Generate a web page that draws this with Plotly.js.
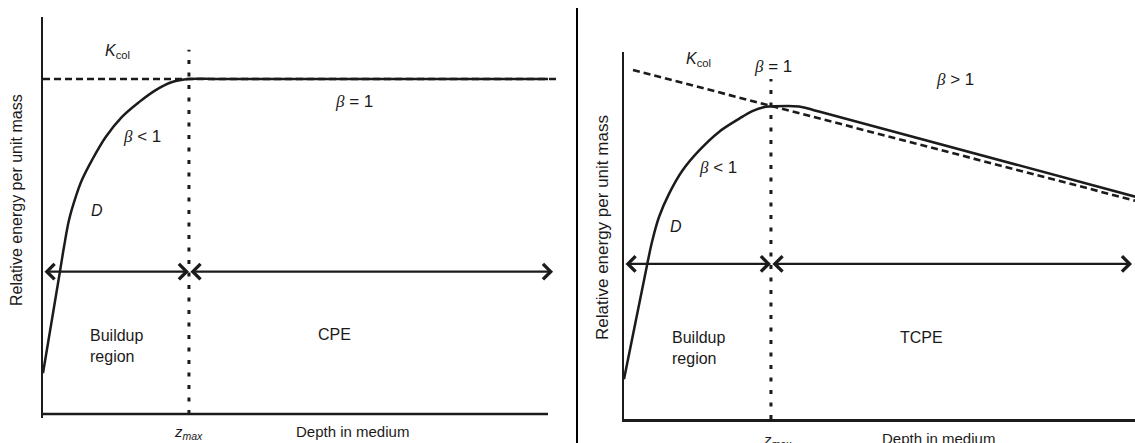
<!DOCTYPE html>
<html><head><meta charset="utf-8">
<script src="https://cdn.plot.ly/plotly-3.0.1.min.js"></script>
<style>html,body{margin:0;padding:0;background:#fff}#chart{width:1135px;height:443px}</style>
</head><body><div id="chart"></div>
<script>
// ---------- Left panel: charged particle equilibrium (beta = 1) ----------
const leftDepth  = [0, 0.331, 0.416, 0.515, 0.648, 0.772, 0.970, 1.242, 1.564, 1.901, 2.232, 2.558, 2.89, 3.5, 10.0];
const leftEnergy = [0.122, 0.421, 0.499, 0.579, 0.648, 0.699, 0.758, 0.827, 0.887, 0.931, 0.967, 0.991, 1.0, 1.0, 1.0];
const leftKcolDepth  = [0, 10.16];
const leftKcolEnergy = [1.0, 1.0];
const leftZmax = 2.89;
const leftZmaxTop = 1.087;
const leftAxisEnd = 10.0;
const leftArrowLevel = 0.425;
const leftArrowEnd = 10.1;

// ---------- Right panel: transient charged particle equilibrium ----------
const rightDepth  = [0, 0.461, 0.560, 0.693, 0.891, 1.154, 1.485, 1.881, 2.277, 2.541, 2.806, 2.911, 3.465, 3.86, 10.139];
const rightEnergy = [0.119, 0.463, 0.532, 0.603, 0.672, 0.741, 0.801, 0.857, 0.896, 0.919, 0.932, 0.933, 0.933, 0.918, 0.663];
const rightKcolDepth  = [0.178, 10.139];
const rightKcolEnergy = [1.042, 0.651];
const rightZmax = 2.91;
const rightZmaxTop = 1.015;
const rightArrowLevel = 0.463;
const rightArrowEnd = 10.06;

// Labels
const yTitle = 'Relative energy per unit mass';
const xTitle = 'Depth in medium';
const kcolText = '<i>K</i><sub>col</sub>';
const zmaxText = '<i>z</i><sub><i>max</i></sub>';
const beta = '<span style="font-family:\'Liberation Serif\',\'Times New Roman\',serif;font-style:italic">β</span>';

// ---------- styling / geometry (pixels) ----------
const W = 1135, H = 443;
const PX_X = 50.5, PX_Y = 335;
const INK = '#1c1a1a';
const FONT = 'Liberation Sans, Arial, Helvetica, sans-serif';

const solid = {color: INK, width: 2.5};
const dashed = {color: INK, width: 2.6, dash: '7px,4px'};
const dotted = {color: INK, width: 3, dash: '4px,8.5px'};

const traces = [
  {x: [0, leftAxisEnd], y: [0, 0], xaxis: 'x', yaxis: 'y', mode: 'lines', line: solid},
  {x: leftKcolDepth, y: leftKcolEnergy, xaxis: 'x', yaxis: 'y', mode: 'lines', line: dashed},
  {x: [leftZmax, leftZmax], y: [0, leftZmaxTop], xaxis: 'x', yaxis: 'y', mode: 'lines', line: dotted},
  {x: leftDepth, y: leftEnergy, xaxis: 'x', yaxis: 'y', mode: 'lines', line: Object.assign({shape: 'spline', smoothing: 1}, solid)},
  {x: rightKcolDepth, y: rightKcolEnergy, xaxis: 'x2', yaxis: 'y2', mode: 'lines', line: dashed},
  {x: [rightZmax, rightZmax], y: [0, rightZmaxTop], xaxis: 'x2', yaxis: 'y2', mode: 'lines', line: dotted},
  {x: rightDepth, y: rightEnergy, xaxis: 'x2', yaxis: 'y2', mode: 'lines', line: Object.assign({shape: 'spline', smoothing: 1}, solid)}
];

function hiddenX(extra) {
  return Object.assign({showgrid: false, zeroline: false, showticklabels: false, ticks: '', fixedrange: true}, extra);
}
function lineY(extra) {
  return Object.assign({showgrid: false, zeroline: false, showticklabels: false, ticks: '', fixedrange: true,
    showline: true, linecolor: INK, linewidth: 2.5}, extra);
}

// left: x=0 at px 43, y=0 at px 414 (domain bottom at 418)
const leftX0 = 43, leftXEnd = 558, leftYBottom = 418, leftY0 = 414, leftYTop = 17;
const rightX0 = 624, rightYBottom = 419, rightYTop = 52;

function label(text, x, y, xref, yref, extra) {
  return Object.assign({text: text, x: x, y: y, xref: xref, yref: yref, showarrow: false,
    xanchor: 'center', yanchor: 'middle', font: {family: FONT, size: 16, color: INK}}, extra || {});
}
function arrow(xa, ya, from, to, level) {
  return {x: to, y: level, ax: from, ay: level, xref: xa, yref: ya, axref: xa, ayref: ya,
    text: '', showarrow: true, arrowside: 'end+start', arrowhead: 4, startarrowhead: 4,
    arrowsize: 1.35, startarrowsize: 1.35, arrowwidth: 2.2, arrowcolor: INK, standoff: 0, startstandoff: 0};
}
const f15 = {family: FONT, size: 15, color: INK};
const f17 = {family: FONT, size: 17, color: INK};

const annotations = [
  // left panel
  arrow('x', 'y', 0, leftZmax, leftArrowLevel),
  arrow('x', 'y', leftZmax, leftArrowEnd, leftArrowLevel),
  label(kcolText, 1.47, 1.081, 'x', 'y'),
  label(beta + ' &lt; 1', 1.96, 0.827, 'x', 'y', {font: f17}),
  label('<i>D</i>', 1.07, 0.606, 'x', 'y'),
  label('Buildup<br>region', 0.89, 0.203, 'x', 'y', {xanchor: 'left', align: 'left'}),
  label('CPE', 5.78, 0.236, 'x', 'y'),
  label(beta + ' = 1', 6.16, 0.934, 'x', 'y', {font: f17}),
  label(zmaxText, leftZmax, 0, 'x', 'y', {font: f15, yshift: -18}),
  label(xTitle, 6.12, 0, 'x', 'y', {font: f15, yshift: -17}),
  label(yTitle, 17 / W, 1 - 200 / H, 'paper', 'paper', {textangle: -90, font: {family: FONT, size: 16, color: INK}}),
  // right panel
  arrow('x2', 'y2', 0, rightZmax, rightArrowLevel),
  arrow('x2', 'y2', rightZmax, rightArrowEnd, rightArrowLevel),
  label(kcolText, 1.485, 1.072, 'x2', 'y2'),
  label(beta + ' = 1', 2.95, 1.051, 'x2', 'y2', {font: f17}),
  label(beta + ' &gt; 1', 6.55, 1.012, 'x2', 'y2', {font: f17}),
  label(beta + ' &lt; 1', 1.86, 0.752, 'x2', 'y2', {font: f17}),
  label('<i>D</i>', 1.03, 0.576, 'x2', 'y2'),
  label('Buildup<br>region', 0.91, 0.212, 'x2', 'y2', {xanchor: 'left', align: 'left'}),
  label('TCPE', 5.90, 0.242, 'x2', 'y2'),
  label(zmaxText, 3.03, 0, 'x2', 'y2', {font: f15, yshift: -21}),
  label(xTitle, 6.22, 0, 'x2', 'y2', {font: f15, yshift: -19}),
  label(yTitle, 602 / W, 1 - 228 / H, 'paper', 'paper', {textangle: -90, font: f17})
];

const layout = {
  width: W, height: H,
  margin: {l: 0, r: 0, t: 0, b: 0, pad: 0},
  paper_bgcolor: '#fff', plot_bgcolor: 'rgba(0,0,0,0)',
  showlegend: false,
  font: {family: FONT, color: INK},
  xaxis: hiddenX({domain: [leftX0 / W, leftXEnd / W], range: [0, (leftXEnd - leftX0) / PX_X], anchor: 'y'}),
  yaxis: lineY({domain: [(H - leftYBottom) / H, (H - leftYTop) / H],
    range: [-(leftYBottom - leftY0) / PX_Y, (leftY0 - leftYTop) / PX_Y], anchor: 'x'}),
  xaxis2: hiddenX({domain: [rightX0 / W, 1], range: [0, (W - rightX0) / PX_X], anchor: 'y2',
    showline: true, linecolor: INK, linewidth: 2.5}),
  yaxis2: lineY({domain: [(H - rightYBottom) / H, (H - rightYTop) / H],
    range: [0, (rightYBottom - rightYTop) / PX_Y], anchor: 'x2'}),
  shapes: [
    {type: 'line', xref: 'paper', yref: 'paper', x0: 577 / W, x1: 577 / W, y0: 0, y1: 1 - 8 / H,
     line: {color: '#000', width: 2}}
  ],
  annotations: annotations
};

Plotly.newPlot('chart', traces, layout, {displayModeBar: false, staticPlot: true});
</script>
</body></html>
